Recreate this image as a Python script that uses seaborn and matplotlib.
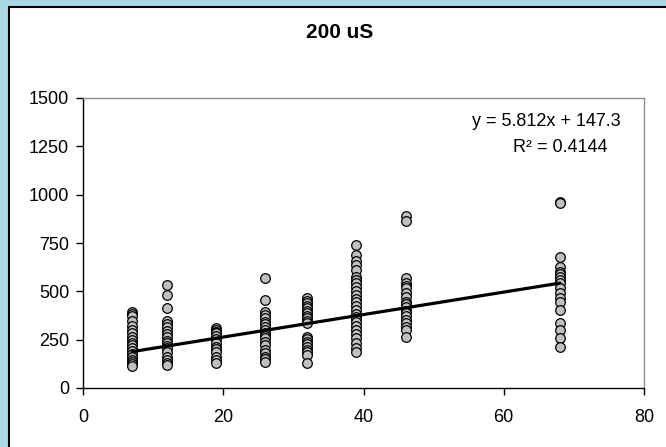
import numpy as np
import pandas as pd
import matplotlib
matplotlib.use("Agg")
import matplotlib.pyplot as plt
from matplotlib.patches import Rectangle
import seaborn as sns

# ---- data ----
title = "200 uS"
x_groups = [7, 12, 19, 26, 32, 39, 46, 68]
y_x7 = [395, 385, 370, 345, 320, 300, 285, 265, 250, 235, 220, 205, 190, 175, 160, 145, 135, 125, 115]
y_x12 = [533, 481, 412, 345, 330, 314, 295, 280, 262, 245, 234, 215, 205, 185, 162, 145, 130, 119]
y_x19 = [310, 300, 290, 283, 270, 252, 235, 214, 200, 185, 162, 145, 128]
y_x26 = [567, 455, 395, 378, 360, 343, 330, 317, 300, 283, 270, 257, 240, 222, 197, 180, 162, 148, 136]
y_x32 = [464, 450, 438, 425, 412, 400, 386, 373, 360, 347, 334, 265, 252, 240, 227, 214, 197, 184, 171, 128]
y_x39 = [740, 690, 655, 636, 610, 575, 559, 541, 524, 500, 481, 460, 447, 425, 403, 385, 369, 355, 343,
         320, 300, 280, 257, 235, 205, 188]
y_x46 = [890, 865, 567, 541, 528, 515, 490, 470, 447, 435, 421, 400, 386, 370, 352, 335, 317, 300, 265]
y_x68 = [964, 958, 679, 627, 601, 590, 576, 560, 541, 515, 490, 465, 446, 403, 335, 300, 257, 214]
y_groups = [y_x7, y_x12, y_x19, y_x26, y_x32, y_x39, y_x46, y_x68]

trend_slope = 5.812
trend_intercept = 147.3
trend_r2 = 0.4144
x_ticks = [0, 20, 40, 60, 80]
y_ticks = [0, 250, 500, 750, 1000, 1250, 1500]

# ---- build frame ----
rows = []
for xv, ys in zip(x_groups, y_groups):
    for yv in ys:
        rows.append((xv, yv))
df = pd.DataFrame(rows, columns=["x", "y"])
xr = np.array([df["x"].min(), df["x"].max()])
trend = pd.DataFrame({"x": xr, "y": trend_intercept + trend_slope * xr})

sns.set_theme(style="white")
plt.rcParams["font.family"] = ["Liberation Sans", "DejaVu Sans"]
plt.rcParams["text.color"] = "black"

W, H = 666, 447
fig = plt.figure(figsize=(W / 100, H / 100), dpi=100)
fig.patch.set_facecolor("#a9d8e5")
fig.patches.append(Rectangle((9 / W, -0.05), 1.2, 1 - 7 / H + 0.05, transform=fig.transFigure,
                             facecolor="white", edgecolor="black", linewidth=1.5, zorder=-5))

left, right, top, bottom = 83, 644, 98, 388
ax = fig.add_axes([left / W, 1 - bottom / H, (right - left) / W, (bottom - top) / H])
ax.set_zorder(2)
ax.set_facecolor("white")

sns.scatterplot(data=df, x="x", y="y", ax=ax, color="#c0c0c0", edgecolor="black",
                linewidth=0.9, s=48, zorder=3, legend=False)
sns.lineplot(data=trend, x="x", y="y", ax=ax, color="black", linewidth=2.3, zorder=4)

ax.set_xlim(0, 80)
ax.set_ylim(0, 1500)
ax.set_xticks(x_ticks)
ax.set_yticks(y_ticks)
ax.set_xlabel("")
ax.set_ylabel("")
ax.tick_params(axis="both", labelsize=13, colors="black", length=5, width=1, direction="out")
ax.tick_params(axis="x", pad=10, bottom=True)
ax.tick_params(axis="y", pad=5, left=True)
for s in ["left", "bottom"]:
    ax.spines[s].set_color("black")
    ax.spines[s].set_linewidth(1)
for s in ["top", "right"]:
    ax.spines[s].set_color("#909090")
    ax.spines[s].set_linewidth(1)

fig.text(340 / W, 1 - 33 / H, title, ha="center", va="center", fontsize=15, fontweight="bold",
         color="black", zorder=5)
fig.text(546 / W, 1 - 122 / H, f"y = {trend_slope:.3f}x + {trend_intercept:.1f}",
         ha="center", va="center", fontsize=13, color="black", zorder=5)
fig.text(560 / W, 1 - 147 / H, f"R² = {trend_r2:.4f}", ha="center", va="center", fontsize=13,
         color="black", zorder=5)

fig.savefig("out.png", dpi=100, facecolor=fig.get_facecolor())
